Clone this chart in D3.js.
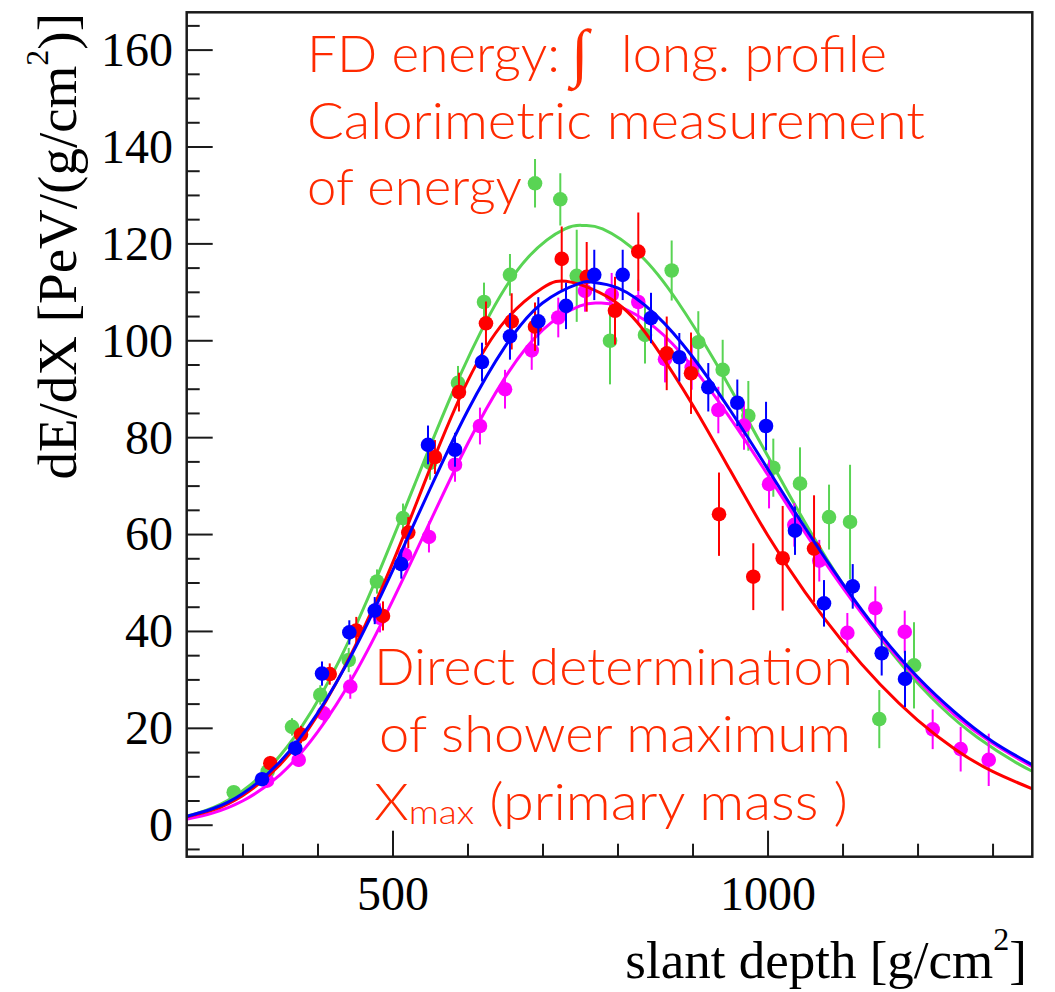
<!DOCTYPE html>
<html>
<head>
<meta charset="utf-8">
<script src="https://cdn.jsdelivr.net/npm/d3@7"></script>
<style>
  html, body { margin: 0; padding: 0; background: #fff; }
  svg { display: block; }
</style>
</head>
<body>
<div id="chart"></div>
<script>
// ---------------------------------------------------------------------------
// Longitudinal shower profiles: four events, points [X, dE/dX, error] and the
// fitted profile read off as [X, dE/dX] samples.
// ---------------------------------------------------------------------------
const greenPts = [
  [288.3, 6.7, 1.2], [333.6, 11.0, 1.5], [366.0, 20.2, 1.8], [403.7, 26.8, 2.0],
  [441.6, 34.0, 2.5], [479.3, 50.2, 2.5], [514.0, 63.3, 3.0], [550.0, 74.7, 3.5],
  [587.3, 91.2, 3.5], [622.0, 107.9, 4.0], [656.6, 113.5, 4.3], [690.0, 132.4, 5.0],
  [723.7, 129.1, 5.4], [745.6, 113.3, 9.5], [790.0, 99.9, 9.0], [836.6, 101.1, 5.9],
  [872.2, 114.4, 6.2], [907.7, 99.6, 6.4], [940.2, 93.9, 6.2], [974.4, 84.4, 7.2],
  [1007.7, 73.7, 6.0], [1043.3, 70.4, 7.5], [1082.0, 63.5, 6.7], [1110.0, 62.5, 11.8],
  [1149.0, 21.8, 6.0], [1195.3, 32.9, 8.9]
];
const magentaPts = [
  [332.7, 9.1, 1.2], [374.9, 13.4, 1.5], [408.3, 23.0, 2.0], [443.7, 28.5, 2.5],
  [483.3, 42.7, 3.0], [516.7, 55.7, 3.0], [548.6, 59.4, 3.2], [583.3, 74.3, 3.5],
  [616.6, 82.3, 3.8], [650.0, 89.9, 4.0], [685.6, 97.9, 4.0], [721.0, 104.7, 4.1],
  [756.6, 110.2, 4.3], [792.2, 109.4, 4.5], [827.7, 107.9, 4.6], [863.3, 96.1, 4.8],
  [898.9, 94.4, 4.6], [934.4, 85.6, 4.8], [968.6, 82.4, 5.0], [1002.0, 70.3, 5.0],
  [1035.7, 61.9, 4.5], [1069.0, 54.5, 4.3], [1106.4, 39.6, 4.1], [1143.7, 44.7, 4.5],
  [1182.9, 39.8, 4.4], [1220.2, 19.7, 4.1], [1257.5, 15.6, 4.6], [1294.9, 13.4, 5.4]
];
const redPts = [
  [337.1, 12.7, 1.5], [378.0, 18.6, 1.8], [416.3, 31.1, 2.2], [451.7, 40.1, 2.8],
  [487.3, 43.1, 3.0], [521.0, 60.3, 3.2], [556.6, 75.9, 3.5], [588.6, 89.3, 4.0],
  [624.6, 103.5, 4.5], [658.9, 103.9, 5.8], [690.0, 102.8, 5.0], [725.6, 116.8, 6.7],
  [758.9, 113.1, 7.2], [796.6, 106.1, 7.0], [827.7, 118.3, 8.1], [865.6, 97.3, 7.6],
  [898.0, 93.2, 8.4], [935.3, 64.1, 8.6], [981.0, 51.2, 6.9], [1020.2, 55.0, 10.8],
  [1062.0, 57.0, 11.0]
];
const bluePts = [
  [326.0, 9.4, 1.2], [370.4, 15.8, 1.6], [406.0, 31.2, 2.5], [442.4, 39.7, 2.5],
  [476.3, 44.2, 2.8], [511.7, 53.8, 3.0], [547.3, 78.4, 4.0], [583.3, 77.4, 3.5],
  [619.3, 95.5, 4.0], [656.6, 100.8, 4.8], [694.4, 103.9, 5.0], [731.3, 107.1, 4.8],
  [769.0, 113.5, 5.2], [806.9, 113.5, 5.2], [844.6, 104.6, 5.2], [882.4, 96.5, 5.0],
  [921.0, 90.3, 5.0], [959.7, 87.1, 4.8], [998.0, 82.3, 5.0], [1036.6, 60.7, 5.0],
  [1075.3, 45.7, 4.8], [1113.6, 49.2, 4.6], [1152.2, 35.4, 4.6], [1183.3, 30.1, 5.8]
];

const greenFit = [
  [205, 1.1], [240, 2.4], [280, 5.0], [330, 10.9], [380, 20.5], [430, 34.2],
  [480, 51.4], [530, 70.4], [580, 89.2], [630, 105.4], [680, 117.0], [730, 123.0],
  [755, 123.7], [780, 123.0], [830, 117.6], [880, 108.0], [930, 95.6], [980, 81.8],
  [1030, 67.8], [1080, 54.6], [1130, 42.9], [1180, 32.8], [1230, 24.5], [1280, 18.0],
  [1335, 12.5], [1370, 9.8]
];
const magentaFit = [
  [225, 1.1], [260, 2.4], [300, 4.9], [350, 10.3], [400, 19.1], [450, 31.2],
  [500, 46.2], [550, 62.5], [600, 78.6], [650, 92.3], [700, 102.1], [750, 107.1],
  [775, 107.7], [800, 107.1], [850, 102.6], [900, 94.5], [950, 84.0], [1000, 72.3],
  [1050, 60.3], [1100, 49.0], [1150, 38.8], [1200, 30.0], [1250, 22.6], [1300, 16.8],
  [1355, 11.8]
];
const redFit = [
  [225, 1.6], [260, 3.0], [300, 6.0], [350, 12.4], [400, 22.6], [450, 36.8],
  [500, 54.0], [550, 73.5], [600, 91.5], [650, 104.0], [700, 110.8], [738, 112.0],
  [800, 107.6], [850, 98.8], [900, 86.7], [950, 73.2], [1000, 59.8], [1050, 48.0],
  [1100, 37.8], [1150, 29.0], [1200, 21.6], [1250, 15.6], [1300, 11.0], [1355, 7.3]
];
const blueFit = [
  [225, 1.7], [260, 3.3], [300, 6.4], [350, 13.0], [400, 23.0], [450, 36.4],
  [500, 52.4], [550, 69.3], [600, 85.4], [650, 98.7], [700, 107.7], [750, 111.8],
  [765, 112.0], [800, 110.8], [850, 105.4], [900, 96.6], [950, 85.6], [1000, 73.5],
  [1050, 61.3], [1100, 49.8], [1150, 39.4], [1200, 30.5], [1250, 23.2], [1300, 17.2],
  [1355, 12.2]
];

const xMajor = [500, 1000];
const xMinor = [300, 400, 600, 700, 800, 900, 1100, 1200, 1300];
const yMajor = [0, 20, 40, 60, 80, 100, 120, 140, 160];
const yMinor = d3.range(-5, 170, 5).filter(v => v % 20 !== 0);

const topNotes = ["FD energy:", "long. profile", "Calorimetric measurement", "of energy"];
const lowNotes = ["Direct determination", "of shower maximum", " (primary mass )"];

// drawing order matches the picture: blue ends up on top
const series = [
  { pts: greenPts,   fit: greenFit,   color: "#59d454" },
  { pts: magentaPts, fit: magentaFit, color: "#ff00ff" },
  { pts: redPts,     fit: redFit,     color: "#ff0000" },
  { pts: bluePts,    fit: blueFit,    color: "#0000ff" }
];

// ---------------------------------------------------------------------------
const W = 1055, H = 992;
const frame = { left: 186.7, top: 12.3, right: 1032.3, bottom: 856.7 };
const serif = "'Liberation Serif', 'Times New Roman', serif";
const noteFont = "Lato, 'Open Sans', sans-serif";
const noteColor = "#ff2a00";

const svg = d3.select("#chart").append("svg")
  .attr("width", W).attr("height", H)
  .attr("viewBox", `0 0 ${W} ${H}`)
  .style("background", "#fff");

const x = d3.scaleLinear().domain([225.6, 1353]).range([frame.left, frame.right]);
const y = d3.scaleLinear().domain([-6.6, 167.7]).range([frame.bottom, frame.top]);

svg.append("defs").append("clipPath").attr("id", "plotclip")
  .append("rect")
  .attr("x", frame.left).attr("y", frame.top)
  .attr("width", frame.right - frame.left)
  .attr("height", frame.bottom - frame.top);

// axes: ticks point into the frame, long for labelled values
function styleAxis(g) {
  g.select(".domain").remove();
  g.selectAll(".tick line").attr("stroke", "#1a1a1a").attr("stroke-width", 2);
  g.selectAll(".tick text")
    .attr("fill", "#000")
    .attr("font-family", serif)
    .attr("font-size", 48);
}

svg.append("g")
  .attr("transform", `translate(0,${frame.bottom})`)
  .call(d3.axisBottom(x).tickValues(xMajor).tickSize(-26).tickPadding(19)
    .tickFormat(d3.format("d")))
  .call(styleAxis);
svg.append("g")
  .attr("transform", `translate(0,${frame.bottom})`)
  .call(d3.axisBottom(x).tickValues(xMinor).tickSize(-13).tickFormat(""))
  .call(styleAxis);
svg.append("g")
  .attr("transform", `translate(${frame.left},0)`)
  .call(d3.axisLeft(y).tickValues(yMajor).tickSize(-26).tickPadding(13.7)
    .tickFormat(d3.format("d")))
  .call(styleAxis)
  .selectAll(".tick text").attr("dy", "0.33em");
svg.append("g")
  .attr("transform", `translate(${frame.left},0)`)
  .call(d3.axisLeft(y).tickValues(yMinor).tickSize(-13).tickFormat(""))
  .call(styleAxis);

// profiles
const plot = svg.append("g").attr("clip-path", "url(#plotclip)");
const line = d3.line().x(d => x(d[0])).y(d => y(d[1])).curve(d3.curveNatural);

for (const s of series) {
  const g = plot.append("g");
  g.append("path").datum(s.fit)
    .attr("d", line)
    .attr("fill", "none")
    .attr("stroke", s.color)
    .attr("stroke-width", 3);
  g.selectAll("line.err").data(s.pts).join("line")
    .attr("class", "err")
    .attr("x1", d => x(d[0])).attr("x2", d => x(d[0]))
    .attr("y1", d => y(d[1] - d[2])).attr("y2", d => y(d[1] + d[2]))
    .attr("stroke", s.color)
    .attr("stroke-width", 2);
  g.selectAll("circle").data(s.pts).join("circle")
    .attr("cx", d => x(d[0])).attr("cy", d => y(d[1]))
    .attr("r", 7.3)
    .attr("fill", s.color);
}

// frame
svg.append("rect")
  .attr("x", frame.left).attr("y", frame.top)
  .attr("width", frame.right - frame.left)
  .attr("height", frame.bottom - frame.top)
  .attr("fill", "none")
  .attr("stroke", "#1a1a1a")
  .attr("stroke-width", 2.5);

// axis titles (superscript "2" kept in the same text element)
const yTitle = svg.append("text")
  .attr("transform", "translate(76,13) rotate(-90)")
  .attr("text-anchor", "end")
  .attr("font-family", serif)
  .attr("font-size", 55);
yTitle.append("tspan").text("dE/dX [PeV/(g/cm");
yTitle.append("tspan").attr("font-size", 32).attr("dy", -28).text("2");
yTitle.append("tspan").attr("dy", 28).text(")]");

const xTitle = svg.append("text")
  .attr("x", 1027).attr("y", 978)
  .attr("text-anchor", "end")
  .attr("font-family", serif)
  .attr("font-size", 53);
xTitle.append("tspan").text("slant depth [g/cm");
xTitle.append("tspan").attr("font-size", 32).attr("dy", -28).text("2");
xTitle.append("tspan").attr("dy", 28).text("]");

// annotations
const notes = svg.append("g")
  .attr("fill", noteColor)
  .attr("font-family", noteFont)
  .attr("font-weight", 300)
  .attr("font-size", 51);

notes.append("text").attr("x", 307).attr("y", 71.5)
  .attr("textLength", 253).attr("lengthAdjust", "spacingAndGlyphs")
  .text(topNotes[0]);
notes.append("text").attr("x", 571).attr("y", 74)
  .attr("font-family", serif).attr("font-weight", 700).attr("font-size", 64)
  .text("\u222B");
notes.append("text").attr("x", 621).attr("y", 71.5)
  .attr("textLength", 266).attr("lengthAdjust", "spacingAndGlyphs")
  .text(topNotes[1]);
notes.append("text").attr("x", 307).attr("y", 139.3)
  .attr("textLength", 618).attr("lengthAdjust", "spacingAndGlyphs")
  .text(topNotes[2]);
notes.append("text").attr("x", 307).attr("y", 205)
  .attr("textLength", 215).attr("lengthAdjust", "spacingAndGlyphs")
  .text(topNotes[3]);

notes.append("text").attr("x", 374).attr("y", 685)
  .attr("textLength", 479).attr("lengthAdjust", "spacingAndGlyphs")
  .text(lowNotes[0]);
notes.append("text").attr("x", 379).attr("y", 752)
  .attr("textLength", 472).attr("lengthAdjust", "spacingAndGlyphs")
  .text(lowNotes[1]);
const l6 = notes.append("text").attr("x", 374).attr("y", 820)
  .attr("textLength", 474).attr("lengthAdjust", "spacingAndGlyphs");
l6.append("tspan").text("X");
l6.append("tspan").attr("font-size", 34).attr("dy", 4).text("max");
l6.append("tspan").attr("dy", -4).text(lowNotes[2]);
</script>
</body>
</html>
